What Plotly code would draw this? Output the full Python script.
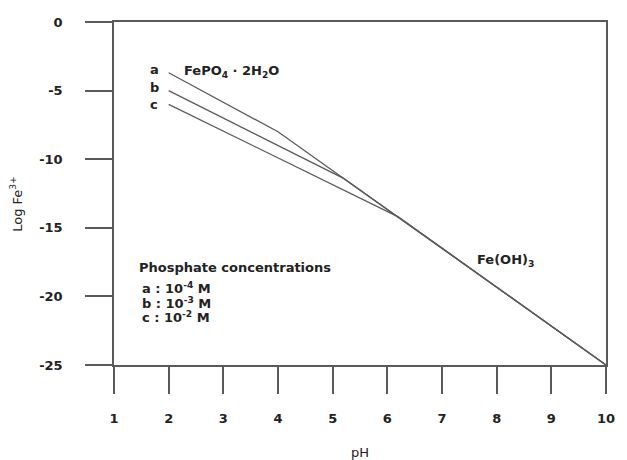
import plotly.graph_objects as go

# Data
ph_a = [2, 4, 10]
log_a = [-3.7, -8.0, -25]
ph_b = [2, 5.2, 10]
log_b = [-5.0, -11.4, -25]
ph_c = [2, 6.2, 10]
log_c = [-6.0, -14.2, -25]

x_ticks = [1, 2, 3, 4, 5, 6, 7, 8, 9, 10]
y_ticks = [0, -5, -10, -15, -20, -25]
y_ticktext = ["0", "-5", "-10", "-15", "-20", "-25"]

line_color = "#5a5a5a"
text_color = "#222222"
font_family = "DejaVu Sans, sans-serif"

fig = go.Figure()
for xs, ys in [(ph_a, log_a), (ph_b, log_b), (ph_c, log_c)]:
    fig.add_trace(go.Scatter(x=xs, y=ys, mode="lines",
                             line=dict(color=line_color, width=1.3),
                             showlegend=False, hoverinfo="skip"))

axis_common = dict(showgrid=False, zeroline=False, showline=True, mirror=True,
                   linecolor=line_color, linewidth=1.5, ticks="outside",
                   ticklen=27, tickwidth=1.5, tickcolor=line_color,
                   tickfont=dict(family=font_family, size=13, color=text_color,
                                 weight="bold"))

fig.update_xaxes(range=[1, 10], tickvals=x_ticks, ticktext=[str(v) for v in x_ticks],
                 ticklabelstandoff=14, **axis_common)
fig.update_yaxes(range=[-25, 0], tickvals=y_ticks, ticktext=y_ticktext,
                 ticklabelstandoff=20, **axis_common)

f = dict(family=font_family, size=13, color=text_color, weight="bold")
fn = dict(family=font_family, size=13, color=text_color)
ann = []
ann.append(dict(x=1.74, y=-3.43, text="a", xref="x", yref="y", showarrow=False, font=f))
ann.append(dict(x=1.74, y=-4.81, text="b", xref="x", yref="y", showarrow=False, font=f))
ann.append(dict(x=1.74, y=-5.98, text="c", xref="x", yref="y", showarrow=False, font=f))
ann.append(dict(x=2.25, y=-3.6, text="FePO<sub>4</sub> · 2H<sub>2</sub>O", xref="x", yref="y",
                xanchor="left", showarrow=False, font=f))
ann.append(dict(x=7.6, y=-17.4, text="Fe(OH)<sub>3</sub>", xref="x", yref="y",
                xanchor="left", showarrow=False, font=f))
ann.append(dict(x=1.42, y=-17.9, text="Phosphate concentrations", xref="x", yref="y",
                xanchor="left", showarrow=False, font=f))
ann.append(dict(x=1.47, y=-19.4, text="a : 10<sup>-4</sup> M", xref="x", yref="y",
                xanchor="left", showarrow=False, font=f))
ann.append(dict(x=1.47, y=-20.5, text="b : 10<sup>-3</sup> M", xref="x", yref="y",
                xanchor="left", showarrow=False, font=f))
ann.append(dict(x=1.47, y=-21.5, text="c : 10<sup>-2</sup> M", xref="x", yref="y",
                xanchor="left", showarrow=False, font=f))
ann.append(dict(x=0.5, y=0, xref="paper", yref="paper", yshift=-87, text="pH",
                yanchor="middle", xanchor="center", showarrow=False, font=fn))
ann.append(dict(x=0, y=0.47, xref="paper", yref="paper", xshift=-98, text="Log Fe<sup>3+</sup>",
                xanchor="center", yanchor="middle", textangle=-90, showarrow=False, font=fn))

fig.update_layout(width=627, height=460, margin=dict(l=114, r=17, t=22, b=95),
                  paper_bgcolor="white", plot_bgcolor="white", annotations=ann,
                  font=fn)

fig.write_html("out.html")
